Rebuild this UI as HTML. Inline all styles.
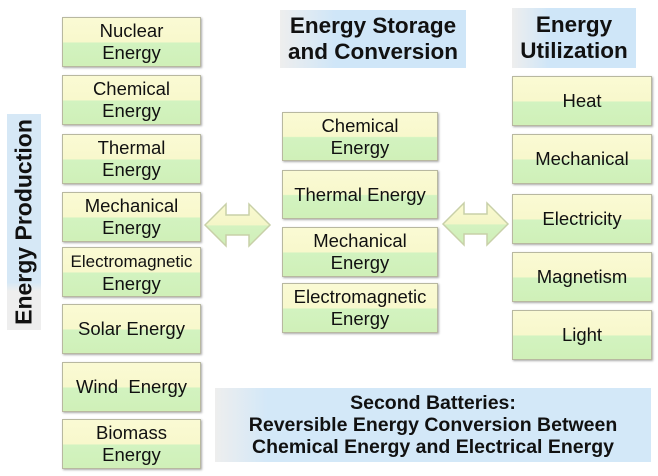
<!DOCTYPE html>
<html><head><style>
body{margin:0;width:658px;height:476px;background:#fff;position:relative;overflow:hidden;font-family:"Liberation Sans",sans-serif}
.b{position:absolute;border:1px solid #b8b8a0;box-shadow:1px 1px 2px #aaa;background:linear-gradient(#fafad4 0%,#f8f8cc 50%,#d2f3c0 52%,#d0f0b8 100%);display:flex;align-items:center;justify-content:center;text-align:center;font-size:18.5px;line-height:22px;color:#111}
.h{position:absolute;font-weight:bold;font-size:22.5px;line-height:26px;text-align:center;color:#111;display:flex;align-items:center;justify-content:center}
</style></head><body>
<div style="position:absolute;left:7px;top:114px;width:34px;height:216px;background:linear-gradient(#d6e8f6 0%,#d6e8f6 78%,#eeeeee 82%,#eeeeee 100%)"></div>
<div style="position:absolute;left:24px;top:222px;transform:translate(-50%,-50%) rotate(-90deg);font-weight:bold;font-size:23px;white-space:nowrap;color:#111">Energy Production</div>
<div class="h" style="left:280px;top:10px;width:186px;height:58px;background:linear-gradient(90deg,#eee 0%,#cfe6f8 30%,#cfe6f8 100%)">Energy Storage<br>and Conversion</div>
<div class="h" style="left:512px;top:8px;width:124px;height:60px;background:linear-gradient(90deg,#eee 0%,#cfe6f8 30%)">Energy<br>Utilization</div>
<div class="h" style="left:215px;top:388px;width:436px;height:74px;font-size:19.5px;line-height:22px;background:linear-gradient(90deg,#eee 0%,#d3e8f8 12%,#d3e8f8 100%)">Second Batteries:<br>Reversible Energy Conversion Between<br>Chemical Energy and Electrical Energy</div>

<div class="b" style="left:62px;top:17px;width:137px;height:48px">Nuclear<br>Energy</div>
<div class="b" style="left:62px;top:75px;width:137px;height:48px">Chemical<br>Energy</div>
<div class="b" style="left:62px;top:134px;width:137px;height:48px">Thermal<br>Energy</div>
<div class="b" style="left:62px;top:192px;width:137px;height:48px">Mechanical<br>Energy</div>
<div class="b" style="left:62px;top:247px;width:137px;height:48px"><span><span style="font-size:17px">Electromagnetic</span><br>Energy</span></div>
<div class="b" style="left:62px;top:304px;width:137px;height:48px">Solar Energy</div>
<div class="b" style="left:62px;top:362px;width:137px;height:48px">Wind &nbsp;Energy</div>
<div class="b" style="left:62px;top:419px;width:137px;height:48px">Biomass<br>Energy</div>

<div class="b" style="left:282px;top:112px;width:154px;height:47px">Chemical<br>Energy</div>
<div class="b" style="left:282px;top:170px;width:154px;height:47px">Thermal Energy</div>
<div class="b" style="left:282px;top:227px;width:154px;height:48px">Mechanical<br>Energy</div>
<div class="b" style="left:282px;top:283px;width:154px;height:48px">Electromagnetic<br>Energy</div>

<div class="b" style="left:512px;top:76px;width:138px;height:48px">Heat</div>
<div class="b" style="left:512px;top:134px;width:138px;height:48px">Mechanical</div>
<div class="b" style="left:512px;top:194px;width:138px;height:48px">Electricity</div>
<div class="b" style="left:512px;top:252px;width:138px;height:48px">Magnetism</div>
<div class="b" style="left:512px;top:310px;width:138px;height:48px">Light</div>

<svg style="position:absolute;left:0;top:0" width="658" height="476">
<defs><linearGradient id="g" x1="0" y1="0" x2="0" y2="1"><stop offset="0" stop-color="#fafad0"/><stop offset="0.5" stop-color="#f4f6c8"/><stop offset="0.52" stop-color="#d4f2c0"/><stop offset="1" stop-color="#d0efb8"/></linearGradient></defs>
<polygon points="205,225 226,204 226,215 249,215 249,204 270,225 249,246 249,235 226,235 226,246" fill="url(#g)" stroke="#c8d0a8" stroke-width="1.5"/>
<polygon points="443,224 464,203 464,214 487,214 487,203 508,224 487,245 487,234 464,234 464,245" fill="url(#g)" stroke="#c8d0a8" stroke-width="1.5"/>
</svg>
</body></html>
